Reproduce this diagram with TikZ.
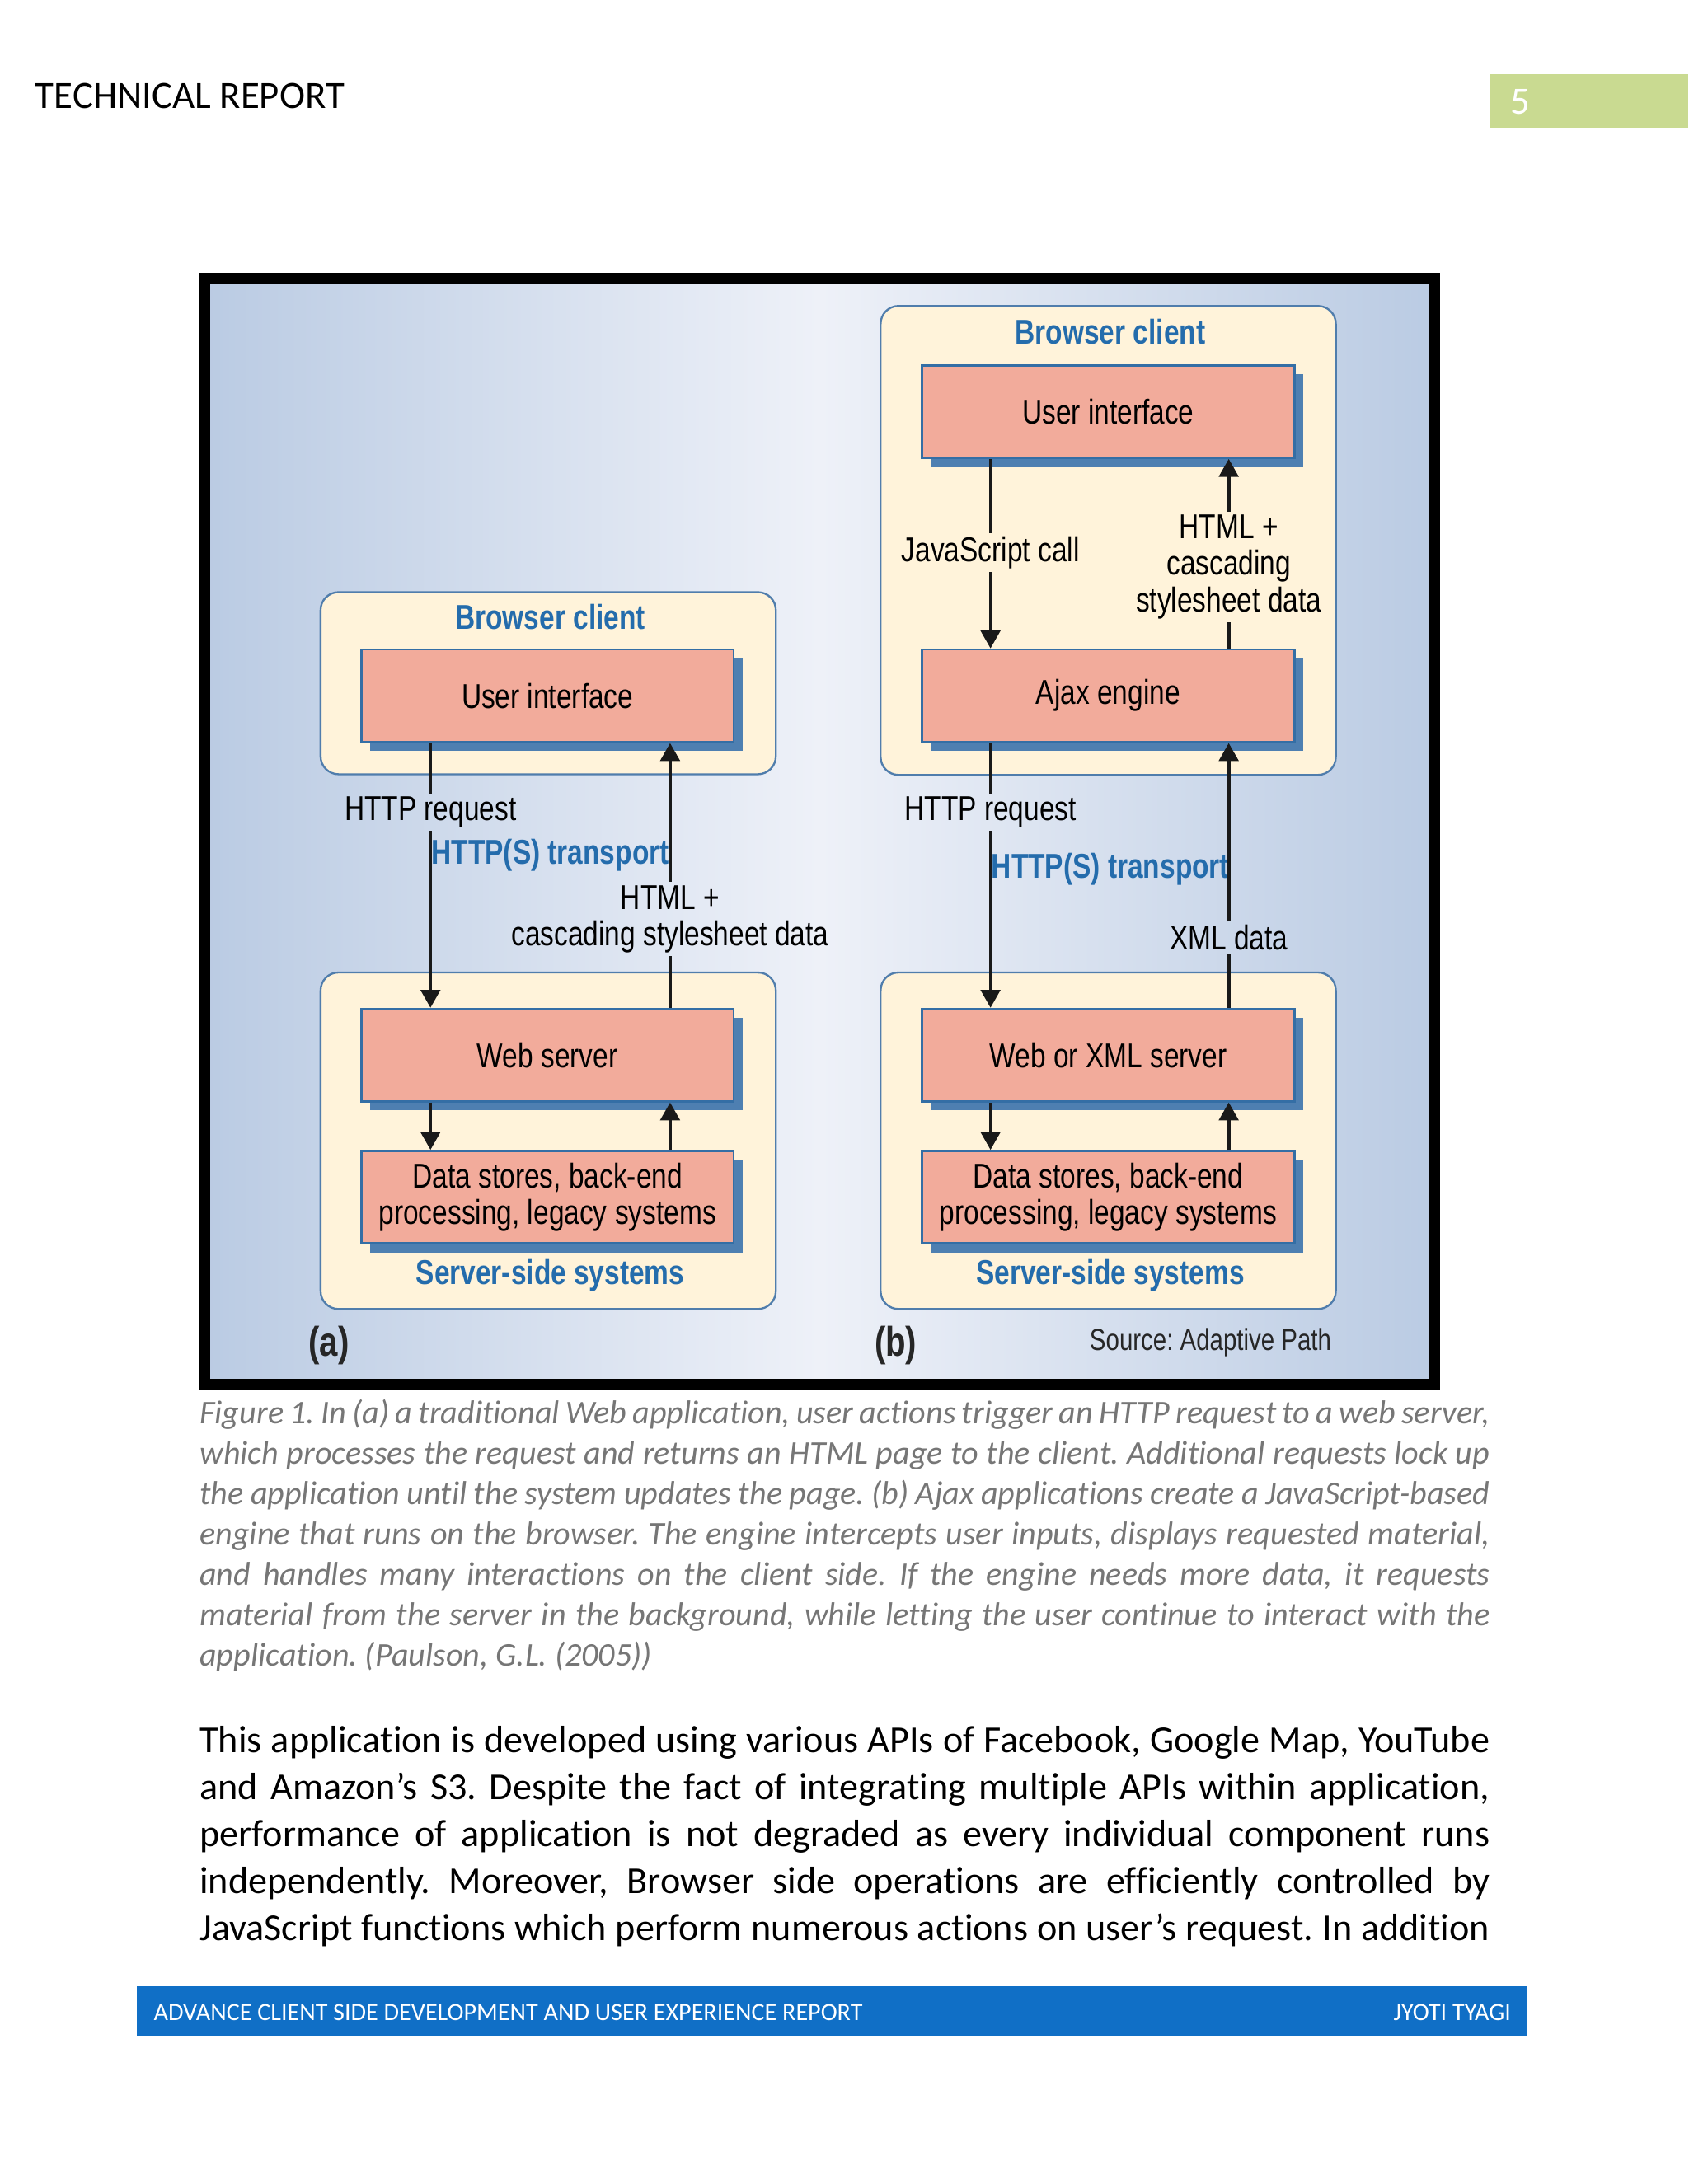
\documentclass[tikz,border=0pt]{standalone}
\usepackage{fontspec}
\setmainfont{Carlito}[Ligatures=NoCommon]
\newfontfamily\figfont[FakeStretch=0.8]{Liberation Sans}
\usetikzlibrary{arrows.meta,shadows,positioning}

\definecolor{salmon}{RGB}{242,171,155}
\definecolor{cream}{RGB}{255,243,218}
\definecolor{boxblue}{RGB}{52,110,165}
\definecolor{layerblue}{RGB}{80,125,172}
\definecolor{shadowblue}{RGB}{78,127,177}
\definecolor{labelblue}{RGB}{36,108,172}
\definecolor{bgblue}{RGB}{186,203,227}
\definecolor{bglight}{RGB}{238,241,248}
\definecolor{pagegreen}{RGB}{201,218,145}
\definecolor{footblue}{RGB}{16,111,198}
\definecolor{captgray}{RGB}{118,118,118}

\newcommand{\jline}[1]{\makebox[467.6pt][s]{#1}}

\begin{document}
\frenchspacing
\begin{tikzpicture}[x=0.50495pt,y=-0.50495pt,
  layer/.style={draw=layerblue,line width=0.7pt,fill=cream,rounded corners=6.5pt,minimum width=165pt,inner sep=0pt},
  block/.style={draw=boxblue,line width=0.8pt,fill=salmon,minimum width=135pt,minimum height=33.5pt,inner sep=0pt,align=center,
    font=\figfont\fontsize{12.5}{13}\selectfont,general shadow={fill=shadowblue,shadow xshift=3.3pt,shadow yshift=-3.3pt}},
  lbl/.style={inner sep=1pt,align=center,font=\figfont\fontsize{12.5}{13.3}\selectfont},
  title/.style={lbl,font=\figfont\bfseries\fontsize{12.5}{13.3}\selectfont,text=labelblue},
  flow/.style={line width=1.25pt,draw=black!90},
  tip/.style={-{Triangle[width=7pt,length=6.5pt]}},
  capt/.style={anchor=base west,inner sep=0pt,text=captgray,font=\itshape\fontsize{12}{14.6}\selectfont},
  body/.style={anchor=base west,inner sep=0pt,font=\fontsize{13.8}{17}\selectfont}
]
\fill[white] (0,0) rectangle (1212,1568);
\useasboundingbox (0,0) rectangle (1212,1568);

% page header
\node[anchor=base west,inner sep=0pt,font=\fontsize{14}{17}\selectfont] (hdr) at (25,78) {TECHNICAL REPORT};
\fill[pagegreen] (1069,53) rectangle (1212,92);
\node[anchor=base west,inner sep=0pt,text=white,font=\fontsize{14}{17}\selectfont] (pgno) at (1084,82) {5};

% figure frame
\shade[left color=bgblue,right color=bgblue,middle color=bglight] (147,200) rectangle (1030,994);
\draw[line width=4pt] (147,200) rectangle (1030,994);

% layers
\node[layer,minimum height=66pt] (bcA) at (393.5,490.5) {};
\node[layer,minimum height=122pt] (ssA) at (393.5,819) {};
\node[layer,minimum height=170pt] (bcB) at (795.5,388) {};
\node[layer,minimum height=122pt] (ssB) at (795.5,819) {};

\node[title] (bcAt) at (395,443) {Browser client};
\node[title] (ssAt) at (395,916) {Server-side systems};
\node[title] (bcBt) at (797,238) {Browser client};
\node[title] (ssBt) at (797,916) {Server-side systems};

% blocks
\node[block] (uiA) at (393,499.5) {User interface};
\node[block] (wsA) at (393,757.5) {Web server};
\node[block] (dsA) at (393,859.5) {Data stores, back-end\\processing, legacy systems};
\node[block] (uiB) at (795.5,295.5) {User interface};
\node[block] (ajB) at (795.5,499.5) {Ajax engine};
\node[block] (wsB) at (795.5,757.5) {Web or XML server};
\node[block] (dsB) at (795.5,859.5) {Data stores, back-end\\processing, legacy systems};

% labels on the flows
\node[lbl] (reqA) at (309,583) {HTTP request};
\node[title] (trA) at (395,614) {HTTP(S) transport};
\node[lbl] (htA) at (481,660) {HTML +\\cascading stylesheet data};
\node[lbl] (jsB) at (711,397) {JavaScript call};
\node[lbl] (htB) at (882,407) {HTML +\\cascading\\stylesheet data};
\node[lbl] (reqB) at (711,583) {HTTP request};
\node[title] (trB) at (797,624) {HTTP(S) transport};
\node[lbl] (xmlB) at (882,673) {XML data};

% flows (a)
\draw[flow] (reqA.north |- uiA.south) -- (reqA.north);
\draw[flow,tip] (reqA.south) -- (reqA.south |- wsA.north);
\draw[flow] (htA.south |- wsA.north) -- (htA.south);
\draw[flow,tip] (htA.north) -- (htA.north |- uiA.south);
\draw[flow,tip] (reqA |- wsA.south) -- (reqA |- dsA.north);
\draw[flow,tip] (htA |- dsA.north) -- (htA |- wsA.south);

% flows (b)
\draw[flow] (jsB.north |- uiB.south) -- (jsB.north);
\draw[flow,tip] (jsB.south) -- (jsB.south |- ajB.north);
\draw[flow] (htB.south |- ajB.north) -- (htB.south);
\draw[flow,tip] (htB.north) -- (htB.north |- uiB.south);
\draw[flow] (reqB.north |- ajB.south) -- (reqB.north);
\draw[flow,tip] (reqB.south) -- (reqB.south |- wsB.north);
\draw[flow] (xmlB.south |- wsB.north) -- (xmlB.south);
\draw[flow,tip] (xmlB.north) -- (xmlB.north |- ajB.south);
\draw[flow,tip] (reqB |- wsB.south) -- (reqB |- dsB.north);
\draw[flow,tip] (xmlB |- dsB.north) -- (xmlB |- wsB.south);

\node[text=black!85,font=\figfont\bfseries\fontsize{15}{17}\selectfont] (pa) at (236,966) {(a)};
\node[text=black!85,font=\figfont\bfseries\fontsize{15}{17}\selectfont] (pb) at (643,966) {(b)};
\node[lbl,anchor=east,text=black!85,font=\figfont\fontsize{11}{13}\selectfont] (src) at (958,964) {Source: Adaptive Path};

% caption
\foreach \txt [count=\i from 0] in {
  {Figure 1. In (a) a traditional Web application, user actions trigger an HTTP request to a web server,},
  {which processes the request and returns an HTML page to the client. Additional requests lock up},
  {the application until the system updates the page. (b) Ajax applications create a JavaScript-based},
  {engine that runs on the browser. The engine intercepts user inputs, displays requested material,},
  {and handles many interactions on the client side. If the engine needs more data, it requests},
  {material from the server in the background, while letting the user continue to interact with the}}
  \node[capt] (cap\i) at (143,{1022+29*\i}) {\jline{\txt}};
\node[capt] (cap6) at (143,1196) {application. (Paulson, G.L. (2005))};

% body text
\foreach \txt [count=\i from 0] in {
  {This application is developed using various APIs of Facebook, Google Map, YouTube},
  {and Amazon’s S3. Despite the fact of integrating multiple APIs within application,},
  {performance of application is not degraded as every individual component runs},
  {independently. Moreover, Browser side operations are efficiently controlled by},
  {JavaScript functions which perform numerous actions on user’s request. In addition}}
  \node[body] (txt\i) at (143,{1258+33.75*\i}) {\jline{\txt}};

% footer
\fill[footblue] (98,1426) rectangle (1096,1462);
\node[anchor=west,inner sep=0pt,text=white,font=\fontsize{9}{11}\selectfont] (ftL) at (110,1445) {ADVANCE CLIENT SIDE DEVELOPMENT AND USER EXPERIENCE REPORT};
\node[anchor=east,inner sep=0pt,text=white,font=\fontsize{9}{11}\selectfont] (ftR) at (1085,1445) {JYOTI TYAGI};
\end{tikzpicture}
\end{document}
